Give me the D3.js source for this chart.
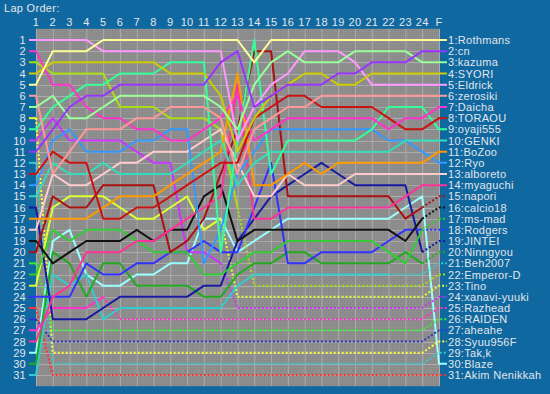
<!DOCTYPE html>
<html>
<head>
<meta charset="utf-8">
<script src="https://d3js.org/d3.v7.min.js"></script>
<style>
body { margin: 0; background: #0f68a0; }
text { font-family: "Liberation Sans", Arial, sans-serif; font-size: 11px; letter-spacing: 0.3px; fill: #e2e6ea; }
</style>
</head>
<body>
<svg width="550" height="394"></svg>
<script>
var lapLabels = ["1","2","3","4","5","6","7","8","9","10","11","12","13","14","15","16","17","18","19","20","21","22","23","24","F"];
var rowLabels = [1,2,3,4,5,6,7,8,9,10,11,12,13,14,15,16,17,18,19,20,21,22,23,24,25,26,27,28,29,30,31];

// drivers in finishing order
var names = ["Rothmans","cn","kazuma","SYORI","Eldrick","zerosiki","Daicha","TORAOU","oyaji555","GENKI",
    "BoZoo","Ryo","alboreto","myaguchi","napori","calcio18","ms-mad","Rodgers","JINTEI","Ninngyou",
    "Beh2007","Emperor-D","Tino","xanavi-yuuki","Razhead","RAIDEN","aheahe","Syuu956F","Tak,k","Blaze","Akim Nenikkah"];

var colors = ["#ffff99","#9933ff","#99ff99","#cccc00","#ff99ff","#ff9999","#ff33cc","#cc1111","#33ff99","#33ddbb",
    "#ff9900","#3399ff","#ffcccc","#ff3399","#aa1111","#111111","#33cc33","#3333ff","#1a1aa0","#22aa22",
    "#33cccc","#aadd11","#ddff33","#cc33ff","#ff33cc","#33ee33","#3333cc","#ffff33","#33cccc","#99ffff","#ff3333"];

// index of the first lap that is reached by a dotted (retired) segment, 25 = never
var retiredFrom = [25,25,25,25,25,25,25,25,25,25,25,25,25,25,24,24,24,24,24,24,22,13,12,12,5,1,1,1,1,25,1];

// position of every driver on laps 1..24 and at the finish
var positions = [
    [5,2,2,2,1,1,1,1,1,1,1,1,1,3,1,1,1,1,1,1,1,1,1,1,1],
    [11,9,7,6,6,5,5,5,5,5,5,3,2,7,6,5,5,5,4,4,3,3,3,2,2],
    [7,6,8,8,7,6,6,6,6,6,6,7,9,5,3,2,3,3,3,2,2,2,2,3,3],
    [4,3,3,3,3,3,3,3,4,4,4,6,11,8,6,5,4,4,5,5,4,4,4,4,4],
    [1,1,1,1,2,2,2,2,2,2,2,2,10,7,5,4,2,2,2,3,5,5,5,5,5],
    [6,13,11,9,9,9,8,8,7,7,7,8,13,9,8,7,7,6,6,6,6,6,6,6,6],
    [2,5,5,7,8,8,9,9,10,10,9,8,6,10,9,8,8,8,8,8,8,9,8,8,7],
    [13,11,12,12,17,17,16,16,15,14,13,12,12,8,7,6,6,7,7,7,7,8,9,9,8],
    [9,7,6,5,5,4,4,4,3,3,3,20,10,1,13,10,10,10,10,10,9,7,7,7,9],
    [15,12,13,13,12,13,13,13,13,12,11,10,14,12,11,11,11,11,11,11,11,11,10,10,10],
    [17,17,17,17,16,15,15,15,14,13,12,11,4,14,14,13,12,13,12,12,12,12,12,12,11],
    [14,10,9,11,11,11,10,10,9,9,21,18,13,11,9,9,9,9,9,9,9,10,10,11,12],
    [18,13,14,14,13,12,12,11,11,11,10,9,12,15,15,13,14,14,14,13,13,13,13,13,13],
    [28,24,23,20,20,20,19,19,18,17,16,15,5,17,17,16,16,16,16,16,16,16,15,14,14],
    [20,15,16,16,14,14,14,14,20,19,17,13,9,2,2,15,15,15,15,15,15,15,17,16,15],
    [19,21,20,19,19,19,18,19,18,18,15,14,19,18,18,18,18,18,18,18,18,18,19,17,16],
    [22,18,19,18,18,18,19,20,20,20,22,22,21,20,20,19,19,19,19,19,19,20,21,18,17],
    [24,24,24,21,22,22,21,21,20,20,19,20,20,16,12,21,21,20,20,20,20,19,18,18,18],
    [16,26,26,26,25,24,24,24,24,24,23,23,19,17,15,14,13,12,13,14,14,14,14,20,19],
    [30,20,21,24,21,21,23,23,23,23,24,24,22,21,21,20,20,21,21,21,21,21,20,21,20],
    [31,22,23,22,26,25,25,25,25,25,25,25,23,22,22,22,22,22,22,22,22,22,22,22,21],
    [3,4,4,4,4,7,7,7,8,8,8,9,16,23,23,23,23,23,23,23,23,23,23,23,22],
    [23,16,15,15,15,16,17,17,16,15,18,17,24,24,24,24,24,24,24,24,24,24,24,24,23],
    [10,8,10,10,10,10,11,12,12,20,20,21,25,25,25,25,25,25,25,25,25,25,25,25,24],
    [27,25,25,25,24,26,26,26,26,26,26,26,26,26,26,26,26,26,26,26,26,26,26,26,25],
    [21,27,27,27,27,27,27,27,27,27,27,27,27,27,27,27,27,27,27,27,27,27,27,27,26],
    [26,28,28,28,28,28,28,28,28,28,28,28,28,28,28,28,28,28,28,28,28,28,28,28,27],
    [8,29,29,29,29,29,29,29,29,29,29,29,29,29,29,29,29,29,29,29,29,29,29,29,28],
    [12,30,30,30,30,30,30,30,30,30,30,30,30,30,30,30,30,30,30,30,30,30,30,30,29],
    [29,19,18,22,23,23,22,22,21,21,17,17,20,19,18,17,17,17,17,17,17,17,16,15,30],
    [25,31,31,31,31,31,31,31,31,31,31,31,31,31,31,31,31,31,31,31,31,31,31,31,31]
];

var svg = d3.select("svg");

var x = d3.scalePoint()
    .domain(lapLabels)
    .range([36, 439]);

var y = d3.scaleLinear()
    .domain([1, 31])
    .range([40, 375]);

// plot background with a fine dither
var pattern = svg.append("defs").append("pattern")
    .attr("id", "dither")
    .attr("width", 2)
    .attr("height", 2)
    .attr("patternUnits", "userSpaceOnUse");
pattern.append("rect").attr("width", 2).attr("height", 2).attr("fill", "#8f8f8f");
pattern.append("rect").attr("width", 1).attr("height", 1).attr("fill", "#858585");

svg.append("rect")
    .attr("x", x("1"))
    .attr("y", y(0))
    .attr("width", x("F") - x("1"))
    .attr("height", y(32) - y(0))
    .attr("fill", "url(#dither)");

var grid = svg.append("g")
    .attr("stroke", "#ababab")
    .attr("stroke-width", 1);

grid.selectAll(".vgrid")
    .data(lapLabels)
    .enter().append("line")
    .attr("x1", function(d) { return x(d) + 0.5; })
    .attr("x2", function(d) { return x(d) + 0.5; })
    .attr("y1", y(0))
    .attr("y2", y(32));

grid.selectAll(".hgrid")
    .data(rowLabels)
    .enter().append("line")
    .attr("x1", x("1"))
    .attr("x2", x("F"))
    .attr("y1", function(d) { return Math.round(y(d)) + 0.5; })
    .attr("y2", function(d) { return Math.round(y(d)) + 0.5; });

// title and axis labels
svg.append("text")
    .attr("x", 4)
    .attr("y", 12)
    .text("Lap Order:");

svg.append("g")
    .selectAll("text")
    .data(lapLabels)
    .enter().append("text")
    .attr("x", function(d) { return x(d); })
    .attr("y", 26)
    .attr("text-anchor", "middle")
    .text(function(d) { return d; });

svg.append("g")
    .selectAll("text")
    .data(rowLabels)
    .enter().append("text")
    .attr("x", 26)
    .attr("y", function(d) { return y(d) + 4; })
    .attr("text-anchor", "end")
    .text(function(d) { return d; });

svg.append("g")
    .selectAll("text")
    .data(names)
    .enter().append("text")
    .attr("x", 448)
    .attr("y", function(d, i) { return y(positions[i][24]) + 4; })
    .text(function(d, i) { return (i + 1) + ":" + d; });

// driver lines, leaders drawn last so they sit on top
var line = d3.line();
var lines = svg.append("g")
    .attr("fill", "none")
    .attr("stroke-width", 2)
    .attr("stroke-linejoin", "round");

d3.range(names.length - 1, -1, -1).forEach(function(i) {
    var pts = positions[i].map(function(p, j) { return [x(lapLabels[j]), y(p)]; });
    var r = retiredFrom[i];
    var first = [29, pts[0][1]];
    var last = [447, pts[24][1]];

    var solid = [first].concat(pts.slice(0, r));
    if (r >= 25) solid.push(last);

    lines.append("path")
        .attr("d", line(solid))
        .attr("stroke", colors[i]);

    if (r < 25) {
        lines.append("path")
            .attr("d", line(pts.slice(r - 1).concat([last])))
            .attr("stroke", colors[i])
            .attr("stroke-dasharray", "2,2");
    }
});
</script>
</body>
</html>
